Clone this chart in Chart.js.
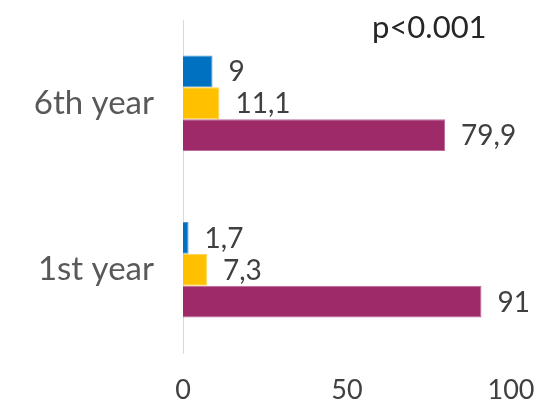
<!DOCTYPE html>
<html>
<head>
<meta charset="utf-8">
<script src="https://cdn.jsdelivr.net/npm/chart.js@4"></script>
<style>
  html, body { margin: 0; padding: 0; background: #fff; }
  #wrap { width: 538px; height: 409px; }
</style>
</head>
<body>
<div id="wrap"><canvas id="chart"></canvas></div>
<script>
// categories, top to bottom
const years = ['6th year', '1st year'];
// series values
const blueValues = [9, 1.7];
const yellowValues = [11.1, 7.3];
const purpleValues = [79.9, 91];
const xTicks = [0, 50, 100];
const pValue = 'p<0.001';

const FONT = 'Lato, "Open Sans", sans-serif';

// draws the value next to the end of each bar, with a comma decimal
const valueLabels = {
  id: 'valueLabels',
  afterDatasetsDraw(chart) {
    const ctx = chart.ctx;
    ctx.save();
    ctx.font = '28px ' + FONT;
    ctx.fillStyle = '#404040';
    ctx.textAlign = 'left';
    ctx.textBaseline = 'middle';
    chart.data.datasets.forEach((ds, i) => {
      chart.getDatasetMeta(i).data.forEach((bar, j) => {
        const txt = String(ds.data[j]).replace('.', ',');
        ctx.fillText(txt, bar.x + 16, bar.y + 1);
      });
    });
    ctx.restore();
  }
};

// significance note in the top right corner
const pNote = {
  id: 'pNote',
  afterDraw(chart) {
    const ctx = chart.ctx;
    const area = chart.chartArea;
    ctx.save();
    ctx.font = '31px ' + FONT;
    ctx.fillStyle = '#262626';
    ctx.textAlign = 'left';
    ctx.textBaseline = 'middle';
    ctx.fillText(pValue, area.left + 189, area.top + 8);
    ctx.restore();
  }
};

new Chart(document.getElementById('chart'), {
  type: 'bar',
  data: {
    labels: years,
    datasets: [
      { data: blueValues, backgroundColor: '#0070C0', borderColor: '#4d9ad3', borderWidth: 1 },
      { data: yellowValues, backgroundColor: '#FFC000', borderColor: '#ffd34d', borderWidth: 1 },
      { data: purpleValues, backgroundColor: '#9F2A6A', borderColor: '#bc6a97', borderWidth: 1 }
    ]
  },
  options: {
    indexAxis: 'y',
    responsive: true,
    maintainAspectRatio: false,
    animation: false,
    layout: { padding: { top: 20, right: 27, left: 0, bottom: 0 } },
    datasets: { bar: { categoryPercentage: 0.575, barPercentage: 1 } },
    plugins: { legend: { display: false }, tooltip: { enabled: false } },
    scales: {
      x: {
        min: 0,
        max: 100,
        afterBuildTicks(scale) { scale.ticks = xTicks.map(v => ({ value: v })); },
        afterFit(scale) {
          scale.height = 56;
          scale.paddingLeft = 0;
          scale.paddingRight = 0;
        },
        grid: { display: false, drawTicks: false },
        border: { display: false },
        ticks: { padding: 21, color: '#404040', font: { family: FONT, size: 27 } }
      },
      y: {
        afterFit(scale) {
          scale.width = 183;
          scale.paddingTop = 0;
          scale.paddingBottom = 0;
        },
        grid: { display: false, drawTicks: false },
        border: { display: true, color: '#d9d9d9', width: 1 },
        ticks: { padding: 29, color: '#595959', font: { family: FONT, size: 33 } }
      }
    }
  },
  plugins: [valueLabels, pNote]
});
</script>
</body>
</html>
